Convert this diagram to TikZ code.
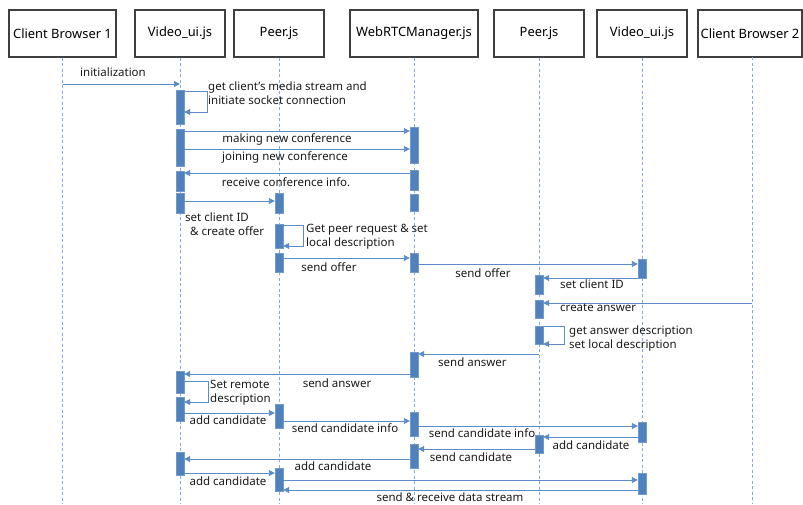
\documentclass[tikz,border=0pt]{standalone}
\usepackage{fontspec}
\setmainfont{Noto Sans}
\usetikzlibrary{arrows.meta}
\definecolor{barblue}{HTML}{4F81BD}
\definecolor{msgblue}{HTML}{5B8BC8}
\definecolor{lifeblue}{HTML}{86AADA}
\definecolor{boxgray}{HTML}{404040}
\tikzset{
  hdr/.style={draw=boxgray, line width=1.1pt, fill=white, minimum height=47pt, inner sep=0pt, font=\fontsize{12.9}{15}\selectfont},
  life/.style={draw=lifeblue, line width=0.8pt, dash pattern=on 3pt off 2.5pt},
  bar/.style={fill=barblue, draw=barblue!80!white, line width=0.4pt, minimum width=8pt, inner sep=0pt},
  msg/.style={draw=msgblue, line width=0.9pt, -{Triangle[length=6pt,width=6pt]}},
  lbl/.style={inner sep=0pt, font=\fontsize{11.5}{14}\selectfont, text=black!90},
  lblL/.style={lbl, anchor=west, align=left}
}
\newcommand{\actbar}[4]{\node[bar, minimum height={#4-#3}] (#1) at (#2 |- 0,{(#3+#4)/2}) {};}
\begin{document}
\begin{tikzpicture}[x=1pt,y=-1pt]
\useasboundingbox (0,0) rectangle (803,504);
% headers
\node[hdr, minimum width=107pt] (h1) at (62.5,33.5) {Client Browser 1};
\node[hdr, minimum width=90pt] (h2) at (180,33.5) {Video\_ui.js};
\node[hdr, minimum width=90pt] (h3) at (279,33.5) {Peer.js};
\node[hdr, minimum width=128pt] (h4) at (414,33.5) {WebRTCManager.js};
\node[hdr, minimum width=90pt] (h5) at (539,33.5) {Peer.js};
\node[hdr, minimum width=90pt] (h6) at (642,33.5) {Video\_ui.js};
\node[hdr, minimum width=104pt] (h7) at (750,33.5) {Client Browser 2};
% lifelines
\foreach \h in {h1,h2,h3,h4,h5,h6}{\draw[life] (\h.south) -- (\h.south |- 0,504);}
\coordinate (h7s) at (752,57);
\draw[life] (h7s) -- (h7s |- 0,504);
% activation bars: Video_ui (left)
\actbar{va}{h2}{90}{124}
\actbar{vb}{h2}{129}{166}
\actbar{vc}{h2}{171}{191}
\actbar{vd}{h2}{193}{213}
\actbar{ve}{h2}{371}{393}
\actbar{vf}{h2}{397}{421}
\actbar{vg}{h2}{452}{475}
% WebRTCManager
\actbar{wa}{h4}{127}{163}
\actbar{wb}{h4}{170}{190}
\actbar{wc}{h4}{194}{211}
\actbar{wd}{h4}{253}{272}
\actbar{we}{h4}{352}{377}
\actbar{wf}{h4}{412}{436}
\actbar{wg}{h4}{444}{468}
% Peer (left)
\actbar{pa}{h3}{193}{213}
\actbar{pb}{h3}{224}{248}
\actbar{pc}{h3}{253}{272}
\actbar{pd}{h3}{404}{428}
\actbar{pe}{h3}{468}{491}
% Peer (right)
\actbar{qa}{h5}{275}{294}
\actbar{qb}{h5}{300}{318}
\actbar{qc}{h5}{326}{344}
\actbar{qd}{h5}{435}{453}
% Video_ui (right)
\actbar{ua}{h6}{259}{278}
\actbar{ub}{h6}{422}{442}
\actbar{uc}{h6}{473}{494}
% messages
\draw[msg] (h1.south |- 0,84) -- (h2.south |- 0,84);
\node[lbl] (m1) at (113,72) {initialization};
\coordinate (k1) at (207,91);
\draw[msg] (va.east |- k1) -- (k1) -- (k1 |- 0,112) -- (va.east |- 0,112);
\node[lblL] (m2) at (208,93) {get client's media stream and\\initiate socket connection};
\draw[msg] (vb.east |- 0,131) -- (wa.west |- 0,131);
\node[lbl] (m3) at (287,139) {making new conference};
\draw[msg] (vb.east |- 0,149) -- (wa.west |- 0,149);
\node[lbl] (m4) at (285,157) {joining new conference};
\draw[msg] (wb.west |- 0,173) -- (vc.east |- 0,173);
\node[lbl] (m5) at (286,182) {receive conference info.};
\draw[msg] (vd.east |- 0,201) -- (pa.west |- 0,201);
\node[lblL] (m6) at (185,224) {set client ID\\\ \,\& create offer};
\coordinate (k2) at (303,225);
\draw[msg] (pb.east |- k2) -- (k2) -- (k2 |- 0,246) -- (pb.east |- 0,246);
\node[lblL] (m7) at (306,236.5) {Get peer request \& set\\local description};
\draw[msg] (pc.east |- 0,258) -- (wd.west |- 0,258);
\node[lbl] (m8) at (329,267) {send offer};
\draw[msg] (wd.east |- 0,264) -- (ua.west |- 0,264);
\node[lbl] (m9) at (483,273) {send offer};
\draw[msg] (ua.west |- 0,278) -- (qa.east |- 0,278);
\node[lblL] (m10) at (560,284) {set client ID};
\draw[msg] (h7s |- 0,303) -- (qb.east |- 0,303);
\node[lblL] (m11) at (560,308) {create answer};
\coordinate (k3) at (564,326);
\draw[msg] (qc.east |- k3) -- (k3) -- (k3 |- 0,344) -- (qc.east |- 0,344);
\node[lblL] (m12) at (569,338.5) {get answer description\\set local description};
\draw[msg] (h5.south |- 0,354) -- (we.east |- 0,354);
\node[lblL] (m13) at (438,362) {send answer};
\draw[msg] (we.west |- 0,374) -- (ve.east |- 0,374);
\node[lbl] (m14) at (337,383) {send answer};
\coordinate (k4) at (208,381);
\draw[msg] (ve.east |- k4) -- (k4) -- (k4 |- 0,402) -- (vf.east |- 0,402);
\node[lblL] (m15) at (210,393) {Set remote\\description};
\draw[msg] (vf.east |- 0,413) -- (pd.west |- 0,413);
\node[lbl] (m16) at (228,420) {add candidate};
\draw[msg] (pd.east |- 0,421) -- (wf.west |- 0,421);
\node[lbl] (m17) at (345,428) {send candidate info};
\draw[msg] (wf.east |- 0,426) -- (ub.west |- 0,426);
\node[lbl] (m18) at (482,433) {send candidate info};
\draw[msg] (ub.west |- 0,437) -- (qd.east |- 0,437);
\node[lbl] (m19) at (591,445) {add candidate};
\draw[msg] (qd.west |- 0,449) -- (wg.east |- 0,449);
\node[lbl] (m20) at (471,457) {send candidate};
\draw[msg] (wg.west |- 0,459) -- (vg.east |- 0,459);
\node[lbl] (m21) at (333,466) {add candidate};
\draw[msg] (vg.east |- 0,473) -- (pe.west |- 0,473);
\node[lbl] (m22) at (228,481) {add candidate};
\draw[msg] (pe.east |- 0,480) -- (uc.west |- 0,480);
\draw[msg] (uc.west |- 0,490) -- (pe.east |- 0,490);
\node[lbl] (m23) at (450,497) {send \& receive data stream};
\end{tikzpicture}
\end{document}
